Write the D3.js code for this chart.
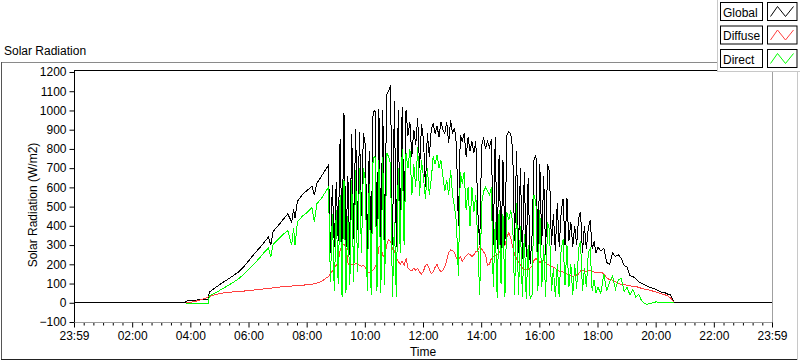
<!DOCTYPE html>
<html><head><meta charset="utf-8">
<script src="https://cdn.jsdelivr.net/npm/d3@7"></script>
<style>
html,body{margin:0;padding:0;background:#fff;}
svg{display:block;font-family:"Liberation Sans",Arial,sans-serif;}
</style></head><body>
<svg id="c" width="800" height="361"></svg>
<script>
// time in minutes after midnight (-1 = 23:59 of previous day)
const times = [
-1,228,230,240,250,260,270,276,278,290,300,310,320,330,340,350,360,370,380,390,400,405,410,420,430,440,448,452,455,460,470,480,490,495,500,510,520,
524,528,532,536,540,544,548,552,556,560,
564,568,572,576,580,584,588,592,596,600,
604,608,612,616,620,624,628,632,636,640,
644,648,652,656,660,664,668,672,676,680,
684,688,692,696,700,704,708,712,716,720,
724,728,732,736,740,744,748,752,756,760,
764,768,772,776,780,784,788,792,796,800,
804,808,812,816,820,824,828,832,836,840,
844,848,852,856,860,864,868,872,876,880,
884,888,892,896,900,904,908,912,916,920,
924,928,932,936,940,944,948,952,956,960,
964,968,972,976,980,984,988,992,996,1000,
1004,1008,1012,1016,1020,1024,1028,1032,1036,1040,
1044,1048,1052,1056,1060,1064,1068,1072,1076,1080,
1086,1092,1098,1104,1110,1116,1122,1128,1134,1140,1146,1152,1158,1164,1170,1176,1182,1188,1194,1200,1206,1212,1218,1224,1230,1236,1242,1439
];
const globalVals = [
0,0,8,12,14,16,18,20,55,78,95,112,128,145,163,190,220,252,280,310,342,300,372,400,432,462,420,485,440,528,562,585,605,560,622,660,700,
715,260,610,290,630,320,850,300,985,270,
660,250,880,330,905,380,890,450,880,820,
250,790,240,990,1000,280,1010,300,1000,320,
1080,1100,1130,300,1050,290,1000,300,1020,400,
1000,870,940,760,900,820,960,700,930,850,
600,880,760,900,930,880,920,860,940,900,
880,940,830,950,880,910,820,400,870,840,
880,760,860,790,840,780,840,480,300,820,
860,800,840,810,850,300,860,280,770,260,
740,300,870,890,880,800,320,790,260,700,
230,680,240,650,200,350,740,770,260,720,
300,660,250,720,680,300,460,270,520,290,
470,540,300,545,320,420,290,400,300,440,
474,260,400,280,390,430,280,320,260,290,
270,285,210,200,260,240,250,230,195,185,140,136,125,110,100,95,85,80,75,70,60,55,52,45,40,5,0,0
];
const diffuseVals = [
null,null,0,3,8,15,24,30,33,42,48,52,55,57,59,61,63,66,69,72,75,76,78,81,84,86,87,88,88,89,91,94,97,99,102,112,130,
135,150,165,180,195,215,270,300,305,290,
210,190,200,195,205,200,195,190,195,185,
165,155,160,170,185,205,290,295,245,240,
300,330,320,280,270,230,215,200,215,195,
230,180,170,165,180,170,180,160,150,165,
195,200,175,150,160,185,200,175,160,170,
190,220,260,275,270,260,230,225,240,215,
230,245,255,250,240,250,265,270,290,280,
265,250,195,200,230,240,245,250,260,280,
290,300,340,365,340,290,250,230,210,195,
180,175,170,175,180,190,220,230,220,210,
215,220,210,200,195,190,185,180,170,165,
165,160,155,150,145,140,135,140,145,150,
165,170,165,160,165,170,165,160,160,155,
160,150,130,120,118,110,100,95,95,90,88,85,85,80,75,70,68,65,60,55,50,45,42,35,25,5,null,null
];
const directVals = [
null,null,-3,-3,-3,-3,-3,-3,35,50,65,80,95,110,128,150,175,200,228,258,285,240,305,330,355,375,300,390,300,420,450,470,495,420,515,545,585,
600,110,460,60,480,100,560,30,640,50,
450,90,640,110,690,160,700,260,700,640,
60,620,40,750,760,60,740,50,760,90,
780,760,720,30,420,30,700,260,800,300,
780,700,800,560,720,600,810,555,740,650,
540,700,560,640,760,720,770,700,740,660,
580,640,560,690,560,500,420,140,680,620,
680,480,600,400,600,470,560,300,40,520,
580,600,580,560,600,80,420,25,480,100,
460,30,470,430,480,420,40,520,40,400,
30,360,20,300,20,40,560,520,60,480,
80,300,30,420,380,60,180,30,200,30,
280,330,90,300,80,200,40,200,70,280,
320,60,180,80,260,280,60,120,50,80,
50,150,60,110,140,70,120,125,60,80,40,70,30,45,10,-5,-8,-3,0,5,0,0,2,0,0,0,null,null
];
const seriesNames = ["Global","Diffuse","Direct"];
const seriesColors = ["#000000","#ff4040","#00ff00"];
const yTicks = [-100,0,100,200,300,400,500,600,700,800,900,1000,1100,1200];
const xMajorTicks = [-1,119,239,359,479,599,719,839,959,1079,1199,1319,1439];
const xTickLabels = ["23:59","02:00","04:00","06:00","08:00","10:00","12:00","14:00","16:00","18:00","20:00","22:00","23:59"];
const chartTitle = "Solar Radiation";
const yTitle = "Solar Radiation (W/m2)";
const xTitle = "Time";

const svg = d3.select("#c");
const L = 74, R = 772, T = 70, B = 322;
const x = d3.scaleLinear().domain([-1, 1439]).range([L, R]);
const y = d3.scaleLinear().domain([-100, 1200]).range([B, 72]);

// outer frame
svg.append("line").attr("x1",1).attr("x2",798).attr("y1",62.5).attr("y2",62.5).attr("stroke","#8a8a8a");
svg.append("line").attr("x1",1.5).attr("x2",1.5).attr("y1",62).attr("y2",360).attr("stroke","#555");
svg.append("line").attr("x1",1).attr("x2",798).attr("y1",359.5).attr("y2",359.5).attr("stroke","#222");
svg.append("line").attr("x1",797.5).attr("x2",797.5).attr("y1",62).attr("y2",360).attr("stroke","#c8c8c8");

svg.append("text").attr("x",4).attr("y",55).attr("font-size",12).attr("fill","#000").text(chartTitle);

// plot background and borders
svg.append("rect").attr("x",L).attr("y",T).attr("width",R-L).attr("height",B-T).attr("fill","#fff");
svg.append("line").attr("x1",L).attr("x2",R).attr("y1",T+0.5).attr("y2",T+0.5).attr("stroke","#000");
svg.append("line").attr("x1",R+0.5).attr("x2",R+0.5).attr("y1",T).attr("y2",B).attr("stroke","#a0a0a0");

svg.append("clipPath").attr("id","clip").append("rect").attr("x",L+1).attr("y",T+1).attr("width",R-L-1).attr("height",B-T-1);

const data = times.map((t,i)=>({t, g:globalVals[i], f:diffuseVals[i], d:directVals[i]}));
const keys = ["g","f","d"];
const gPlot = svg.append("g").attr("clip-path","url(#clip)");
keys.forEach((k,i)=>{
  const line = d3.line().defined(p=>p[k]!=null).x(p=>x(p.t)).y(p=>y(p[k]));
  gPlot.append("path").datum(data).attr("d",line).attr("fill","none")
    .attr("stroke",seriesColors[i]).attr("stroke-width",1).attr("shape-rendering","crispEdges");
});

// Y axis
const yAxis = d3.axisLeft(y).tickValues(yTicks).tickSize(5).tickPadding(3).tickFormat(d3.format("d"));
const ya = svg.append("g").attr("transform",`translate(${L+0.5},0)`).call(yAxis);
ya.select(".domain").attr("stroke","#000").attr("d",`M0,${T}V${B}`);
ya.selectAll("line").attr("stroke","#000");
ya.selectAll("text").attr("font-size",12).attr("font-family","Liberation Sans, Arial, sans-serif").attr("fill","#000");

// X axis
const minorTicks = [];
for (let i=0;i<xMajorTicks.length-1;i++){ for(let j=1;j<6;j++){ minorTicks.push(xMajorTicks[i]+j*20); } }
const xMinor = d3.axisBottom(x).tickValues(minorTicks).tickSize(3).tickFormat("");
const xm = svg.append("g").attr("transform",`translate(0,${B+0.5})`).call(xMinor);
xm.select(".domain").remove();
xm.selectAll("line").attr("stroke","#000");
const xAxis = d3.axisBottom(x).tickValues(xMajorTicks).tickSize(5).tickPadding(4).tickFormat((d,i)=>xTickLabels[i]);
const xa = svg.append("g").attr("transform",`translate(0,${B+0.5})`).call(xAxis);
xa.select(".domain").attr("stroke","#9a9a9a").attr("d",`M${L},0H${R+1}`);
xa.selectAll("line").attr("stroke","#000");
xa.selectAll("text").attr("font-size",12).attr("font-family","Liberation Sans, Arial, sans-serif").attr("fill","#000");

svg.append("text").attr("transform","translate(37,205) rotate(-90)").attr("text-anchor","middle")
  .attr("font-size",12).attr("fill","#000").text(yTitle);
svg.append("text").attr("x",(L+R)/2).attr("y",356).attr("text-anchor","middle").attr("font-size",12).attr("fill","#000").text(xTitle);

// legend
const lg = svg.append("g");
lg.append("rect").attr("x",717.5).attr("y",-1).attr("width",84).attr("height",72.5).attr("fill","#fff").attr("stroke","#c8c8c8");
seriesNames.forEach((n,i)=>{
  const y0 = 2.5 + i*23.5;
  lg.append("rect").attr("x",720.5).attr("y",y0).attr("width",42).attr("height",18).attr("fill","#fff").attr("stroke","#000");
  lg.append("text").attr("x",723).attr("y",y0+14).attr("font-size",12).attr("fill","#000").text(n);
  lg.append("rect").attr("x",767.5).attr("y",y0).attr("width",29.5).attr("height",18).attr("fill","#fff").attr("stroke","#000");
  const x0 = 767.5;
  lg.append("polyline").attr("points",`${x0+3},${y0+14} ${x0+10},${y0+4} ${x0+18},${y0+14} ${x0+26},${y0+4}`)
    .attr("fill","none").attr("stroke",seriesColors[i]).attr("stroke-width",1);
});
</script>
</body></html>
